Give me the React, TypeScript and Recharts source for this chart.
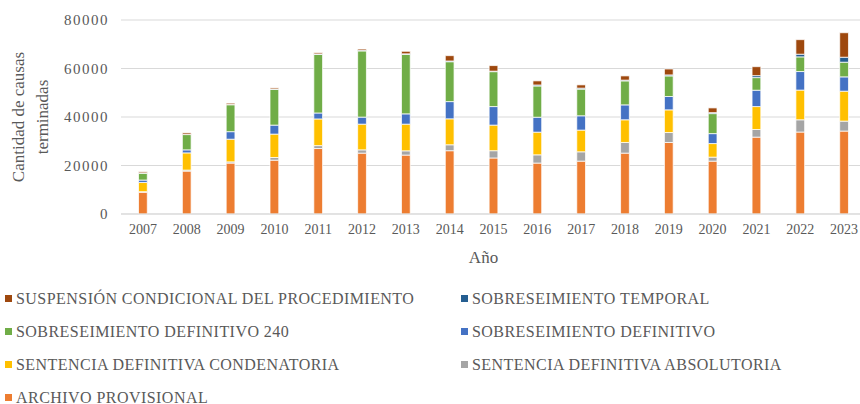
import {
  BarChart,
  Bar,
  XAxis,
  YAxis,
  CartesianGrid,
  Legend,
} from 'recharts';

const years = ['2007', '2008', '2009', '2010', '2011', '2012', '2013', '2014', '2015', '2016', '2017', '2018', '2019', '2020', '2021', '2022', '2023'];

const archivoProvisional = [9000, 17700, 21000, 22200, 27000, 25100, 24300, 26100, 23100, 21000, 21800, 25100, 29500, 21800, 31700, 33800, 34200];
const sentenciaAbsolutoria = [200, 400, 500, 1100, 1200, 1350, 1750, 2450, 3000, 3400, 3850, 4400, 4100, 1650, 3150, 5050, 4100];
const sentenciaCondenatoria = [3800, 7100, 9350, 9650, 11000, 10600, 11000, 10700, 10550, 9350, 8950, 9350, 9350, 5600, 9450, 12250, 12350];
const sobreseimientoDefinitivo = [1000, 1250, 3100, 3700, 2450, 2900, 4250, 7100, 7650, 6150, 5900, 6150, 5500, 4100, 6750, 7650, 5900];
const sobreseimiento240 = [2850, 6300, 11100, 14800, 24150, 27300, 24550, 16450, 14400, 12900, 11000, 9900, 8500, 8250, 5200, 6050, 6050];
const sobreseimientoTemporal = [100, 100, 100, 100, 200, 300, 200, 300, 200, 400, 400, 300, 400, 400, 800, 1100, 2050];
const suspensionCondicional = [450, 600, 550, 450, 500, 500, 1050, 2200, 2300, 1700, 1350, 1750, 2450, 1950, 3700, 6000, 10100];

const yTicks = [0, 20000, 40000, 60000, 80000];

// stacking order, bottom to top
const series = [
  { key: 'archivo', name: 'ARCHIVO PROVISIONAL', color: '#ED7D31', values: archivoProvisional },
  { key: 'absolutoria', name: 'SENTENCIA DEFINITIVA ABSOLUTORIA', color: '#A5A5A5', values: sentenciaAbsolutoria },
  { key: 'condenatoria', name: 'SENTENCIA DEFINITIVA CONDENATORIA', color: '#FFC000', values: sentenciaCondenatoria },
  { key: 'sobDef', name: 'SOBRESEIMIENTO DEFINITIVO', color: '#4472C4', values: sobreseimientoDefinitivo },
  { key: 'sob240', name: 'SOBRESEIMIENTO DEFINITIVO 240', color: '#70AD47', values: sobreseimiento240 },
  { key: 'temporal', name: 'SOBRESEIMIENTO TEMPORAL', color: '#255E91', values: sobreseimientoTemporal },
  { key: 'suspension', name: 'SUSPENSIÓN CONDICIONAL DEL PROCEDIMIENTO', color: '#9E480E', values: suspensionCondicional },
];

// legend reads top-down, two columns
const legendOrder = ['suspension', 'temporal', 'sob240', 'sobDef', 'condenatoria', 'absolutoria', 'archivo'];

const chartData = years.map((year, i) => {
  const row: Record<string, string | number> = { year };
  series.forEach((s) => {
    row[s.key] = s.values[i];
  });
  return row;
});

const FONT = '"Liberation Serif", "Times New Roman", serif';
const TEXT = '#595959';

function renderLegend() {
  const items = legendOrder.map((k) => series.find((s) => s.key === k)!);
  return (
    <div style={{ display: 'grid', gridTemplateColumns: '456px 400px' }}>
      {items.map((it) => (
        <div key={it.key} style={{ display: 'flex', alignItems: 'center', height: 33, paddingLeft: 5 }}>
          <span style={{ width: 7, height: 7, background: it.color, marginRight: 4, display: 'inline-block', flex: 'none' }} />
          <span style={{ fontFamily: FONT, fontSize: 16, letterSpacing: 0.45, color: TEXT, whiteSpace: 'nowrap' }}>{it.name}</span>
        </div>
      ))}
    </div>
  );
}

function YLabel(props: any) {
  const { viewBox } = props;
  const cy = viewBox.y + viewBox.height / 2;
  return (
    <g>
      <text x={24} y={cy} transform={`rotate(-90, 24, ${cy})`} textAnchor="middle" fill={TEXT} fontFamily={FONT} fontSize={17}>
        Cantidad de causas
      </text>
      <text x={48} y={cy} transform={`rotate(-90, 48, ${cy})`} textAnchor="middle" fill={TEXT} fontFamily={FONT} fontSize={17}>
        terminadas
      </text>
    </g>
  );
}

function XLabel(props: any) {
  const { viewBox } = props;
  return (
    <text x={viewBox.x + viewBox.width / 2 - 10} y={263} textAnchor="middle" fill={TEXT} fontFamily={FONT} fontSize={17}>
      Año
    </text>
  );
}

export default function App() {
  return (
    <div style={{ position: 'fixed', left: 0, top: 0, width: 860, height: 404, overflow: 'hidden', background: '#fff' }}>
      <BarChart
        width={868}
        height={404}
        data={chartData}
        margin={{ top: 20, right: 2, left: 0, bottom: 160 }}
        barCategoryGap="60%"
      >
        <CartesianGrid vertical={false} stroke="#d9d9d9" />
        <XAxis
          dataKey="year"
          height={30}
          tickLine={false}
          tickSize={0}
          tickMargin={10}
          axisLine={{ stroke: '#d9d9d9' }}
          tick={{ fill: TEXT, fontFamily: FONT, fontSize: 14 }}
          label={<XLabel />}
        />
        <YAxis
          width={121}
          domain={[0, 80000]}
          ticks={yTicks}
          axisLine={false}
          tickLine={false}
          tickSize={0}
          tickMargin={12}
          tick={{ fill: TEXT, fontFamily: FONT, fontSize: 15, letterSpacing: 1.5 }}
          label={<YLabel />}
        />
        <Legend
          content={renderLegend}
          layout="vertical"
          align="center"
          verticalAlign="bottom"
          wrapperStyle={{ left: 0, top: 282, bottom: 'auto', width: 860, height: 0, overflow: 'visible' }}
        />
        {series.map((s) => (
          <Bar
            key={s.key}
            dataKey={s.key}
            name={s.name}
            stackId="a"
            fill={s.color}
            stroke="#ffffff"
            strokeWidth={0.75}
            isAnimationActive={false}
          />
        ))}
      </BarChart>
    </div>
  );
}
